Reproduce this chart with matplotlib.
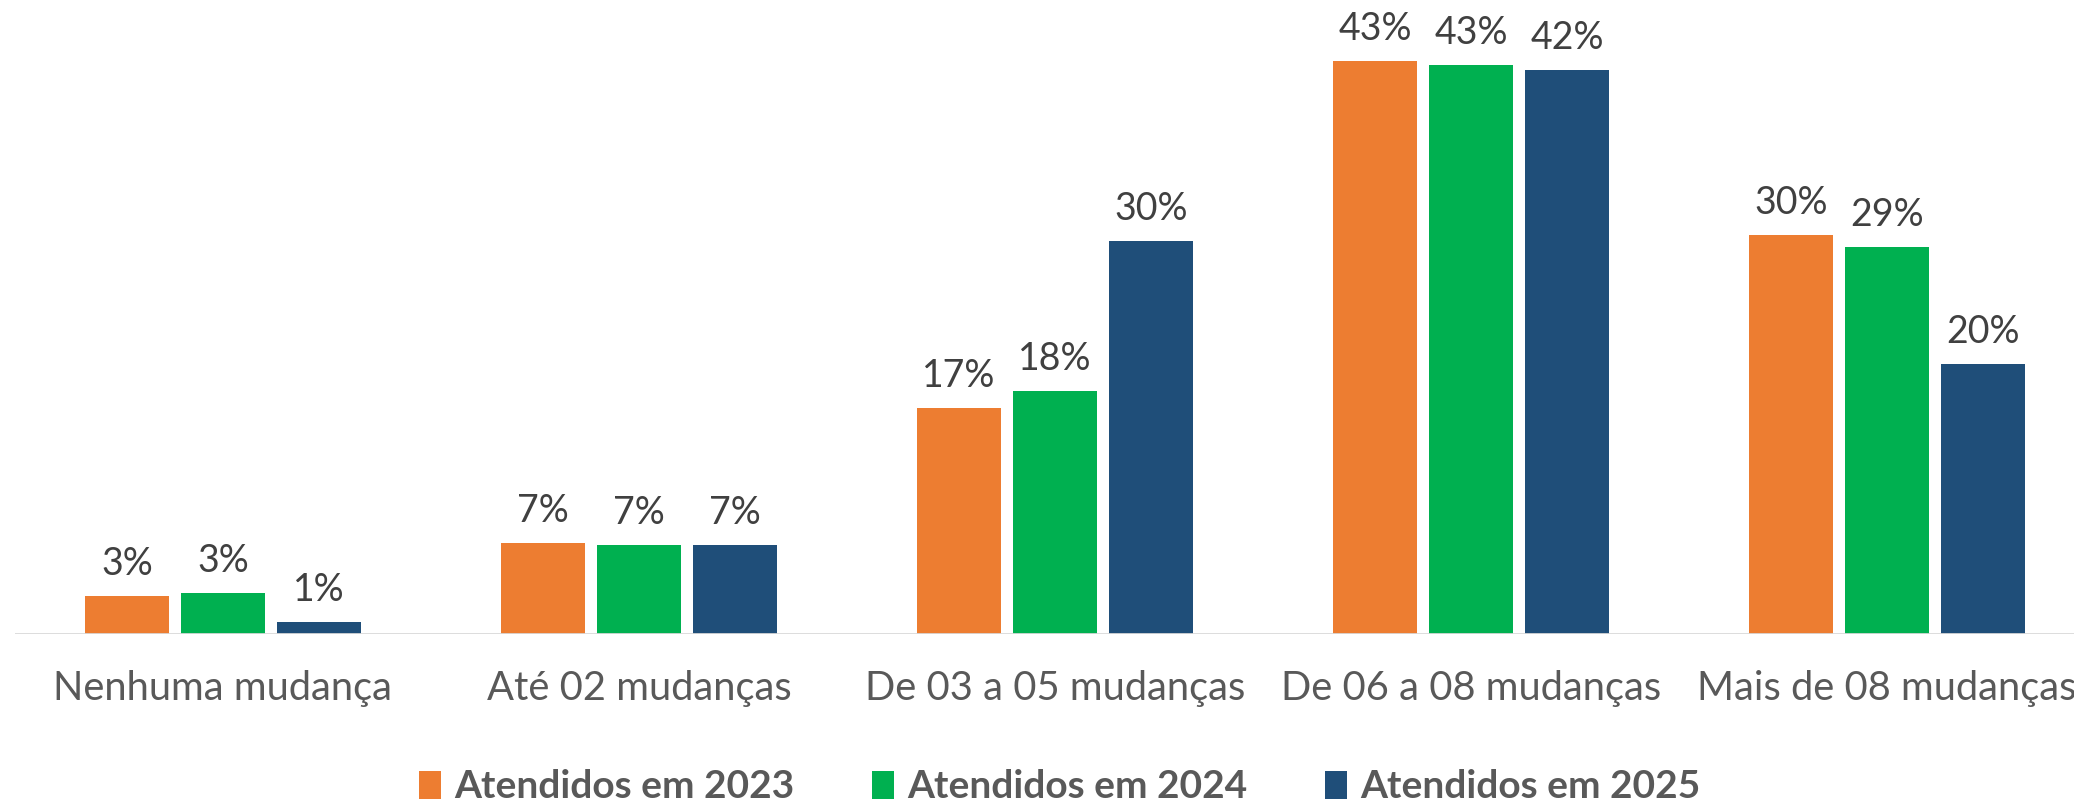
import matplotlib
matplotlib.use("Agg")
import matplotlib.pyplot as plt
from matplotlib.patches import Patch
import numpy as np

categories = ["Nenhuma mudança", "Até 02 mudanças", "De 03 a 05 mudanças",
              "De 06 a 08 mudanças", "Mais de 08 mudanças"]
series_names = ["Atendidos em 2023", "Atendidos em 2024", "Atendidos em 2025"]
v2023 = [2.9, 6.9, 17.0, 43.1, 30.0]
v2024 = [3.1, 6.7, 18.3, 42.8, 29.1]
v2025 = [0.9, 6.7, 29.6, 42.4, 20.3]
colors = ["#ED7D31", "#00B050", "#1F4E79"]

W, H, DPI = 2074, 802, 100
fig = plt.figure(figsize=(W / DPI, H / DPI), dpi=DPI)
plt.rcParams['font.family'] = ['Lato', 'DejaVu Sans']

base_y = 634.3
left_px = 14.9
group_px = 416.0
ncat = len(categories)
ax = fig.add_axes([left_px / W, (H - base_y) / H, group_px * ncat / W, base_y / H])
ymax = base_y / 13.3
ax.set_ylim(0, ymax)
ax.set_xlim(-0.5, ncat - 0.5)

x = np.arange(ncat)
pitch = 96.0 / group_px
width = 83.5 / group_px
for i, (vals, c) in enumerate(zip([v2023, v2024, v2025], colors)):
    xs = x + (i - 1) * pitch
    bars = ax.bar(xs, vals, width=width, color=c, zorder=2)
    for xb, v in zip(xs, vals):
        ax.annotate(f"{round(v):d}%", (xb, v), xytext=(0, 14), textcoords="offset pixels",
                    ha="center", va="bottom", fontsize=27, color="#404040")

for s in ax.spines.values():
    s.set_visible(False)
ax.axhline(0, color="#D9D9D9", lw=2, zorder=3)
ax.set_yticks([])
ax.set_xticks(x)
ax.set_xticklabels(categories, fontsize=28.7, color="#595959")
ax.tick_params(axis="x", length=0, pad=26)

handles = [Patch(facecolor=c, edgecolor="none") for c in colors]
fig.legend(handles, series_names, loc="center", bbox_to_anchor=(1060 / W, 1 - 787 / H),
           ncol=3, frameon=False, handlelength=0.55, handleheight=0.75,
           handletextpad=0.35, columnspacing=2.0,
           prop={"weight": "bold", "size": 28})
for t in fig.legends[0].get_texts():
    t.set_color("#595959")

fig.savefig("out.png", dpi=DPI)
